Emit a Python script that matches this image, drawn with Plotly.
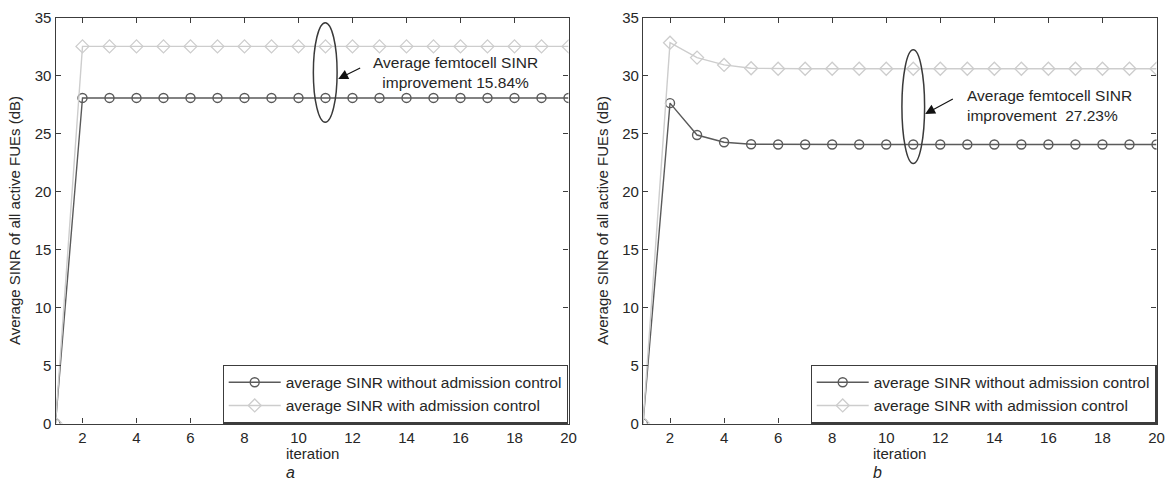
import plotly.graph_objects as go

# ---- data ----
iterations = list(range(1, 21))
a_without = [0, 28.1] + [28.1] * 18
a_with = [0, 32.55] + [32.55] * 18
b_without = [0, 27.65, 24.9, 24.28, 24.1] + [24.08] * 15
b_with = [0, 32.87, 31.58, 30.95, 30.66] + [30.62] * 15

x_ticks = list(range(2, 21, 2))
y_ticks = list(range(0, 36, 5))
name_without = "average SINR without admission control"
name_with = "average SINR with admission control"

W, H = 1167, 487
FONT = "Liberation Sans, Arial, sans-serif"
DARK = "#5a5a5a"
LIGHT = "#cdcdcd"
AX = "#3c3c3c"
TXT = "#262626"

def px_x(p):
    return p / W

def px_y(p):
    return 1 - p / H

fig = go.Figure()

def add_series(xref, yref, without, with_, legend):
    fig.add_trace(go.Scatter(
        x=iterations, y=without, name=name_without, mode="lines+markers",
        line=dict(color=DARK, width=1.4),
        marker=dict(symbol="circle-open", size=9, color=DARK, line=dict(width=1.4)),
        xaxis=xref, yaxis=yref, legend=legend))
    fig.add_trace(go.Scatter(
        x=iterations, y=with_, name=name_with, mode="lines+markers",
        line=dict(color=LIGHT, width=1.4),
        marker=dict(symbol="diamond-open", size=10, color=LIGHT, line=dict(width=1.3)),
        xaxis=xref, yaxis=yref, legend=legend))

add_series("x", "y", a_without, a_with, "legend")
add_series("x2", "y2", b_without, b_with, "legend2")

axis_common = dict(
    showgrid=False, zeroline=False, showline=True, mirror="ticks", automargin=False,
    linecolor=AX, linewidth=1.2, ticks="inside", ticklen=5, tickcolor=AX,
    tickfont=dict(family=FONT, size=15, color=TXT),
)

top, bottom = 18, 423.5
ydom = [px_y(bottom), px_y(top)]
a_l, a_r = 55.5, 568.5
b_l, b_r = 643, 1156.5

legend_common = dict(
    y=px_y(bottom), xanchor="right", yanchor="bottom",
    bgcolor="white", bordercolor=AX, borderwidth=1.2,
    font=dict(family=FONT, size=15.5, color=TXT),
    tracegroupgap=0, itemwidth=52,
)

fig.update_layout(
    template="none",
    width=W, height=H,
    margin=dict(l=0, r=0, t=0, b=0, autoexpand=False),
    paper_bgcolor="white", plot_bgcolor="white",
    font=dict(family=FONT, color=TXT),
    xaxis=dict(domain=[px_x(a_l), px_x(a_r)], range=[1, 20], tickvals=x_ticks, anchor="y", **axis_common),
    yaxis=dict(domain=ydom, range=[0, 35], tickvals=y_ticks, anchor="x", **axis_common),
    xaxis2=dict(domain=[px_x(b_l), px_x(b_r)], range=[1, 20], tickvals=x_ticks, anchor="y2", **axis_common),
    yaxis2=dict(domain=ydom, range=[0, 35], tickvals=y_ticks, anchor="x2", **axis_common),
    legend=dict(x=px_x(a_r), **legend_common),
    legend2=dict(x=px_x(b_r), **legend_common),
    showlegend=True,
)

# ellipses
fig.add_shape(type="circle", xref="x", yref="y", x0=10.55, x1=11.43, y0=26.0, y1=34.6,
              line=dict(color="#3a3a3a", width=1.5))
fig.add_shape(type="circle", xref="x2", yref="y2", x0=10.58, x1=11.42, y0=22.45, y1=32.25,
              line=dict(color="#3a3a3a", width=1.5))

# arrows
fig.add_annotation(xref="x", yref="y", axref="x", ayref="y", x=11.47, y=29.74, ax=12.34, ay=30.75,
                   showarrow=True, arrowhead=2, arrowsize=1.8, arrowwidth=1.1, arrowcolor="#111", text="")
fig.add_annotation(xref="x2", yref="y2", axref="x2", ayref="y2", x=11.44, y=26.72, ax=12.52, ay=28.08,
                   showarrow=True, arrowhead=2, arrowsize=1.8, arrowwidth=1.1, arrowcolor="#111", text="")

# annotation texts
fig.add_annotation(xref="x", yref="y", x=15.83, y=30.28, xanchor="center", yanchor="middle",
                   showarrow=False, align="center",
                   text="Average femtocell SINR<br>improvement 15.84%",
                   font=dict(family=FONT, size=15.5, color=TXT))
fig.add_annotation(xref="x2", yref="y2", x=12.93, y=27.44, xanchor="left", yanchor="middle",
                   showarrow=False, align="left",
                   text="Average femtocell SINR<br>improvement  27.23%",
                   font=dict(family=FONT, size=15.5, color=TXT))

# axis titles and panel labels
for cx, lbl in [((a_l + a_r) / 2, "a"), ((b_l + b_r) / 2, "b")]:
    fig.add_annotation(xref="paper", yref="paper", x=px_x(cx), y=px_y(453),
                       xanchor="center", yanchor="middle", showarrow=False,
                       text="iteration", font=dict(family=FONT, size=15, color=TXT))
    fig.add_annotation(xref="paper", yref="paper", x=px_x(cx - 22), y=px_y(472),
                       xanchor="center", yanchor="middle", showarrow=False,
                       text="<i>%s</i>" % lbl, font=dict(family=FONT, size=16, color=TXT))

for cx in [14, 602]:
    fig.add_annotation(xref="paper", yref="paper", x=px_x(cx), y=px_y(221),
                       xanchor="center", yanchor="middle", showarrow=False,
                       textangle=-90, text="Average SINR of all active FUEs (dB)",
                       font=dict(family=FONT, size=15, color=TXT))

fig.write_html("out.html")
